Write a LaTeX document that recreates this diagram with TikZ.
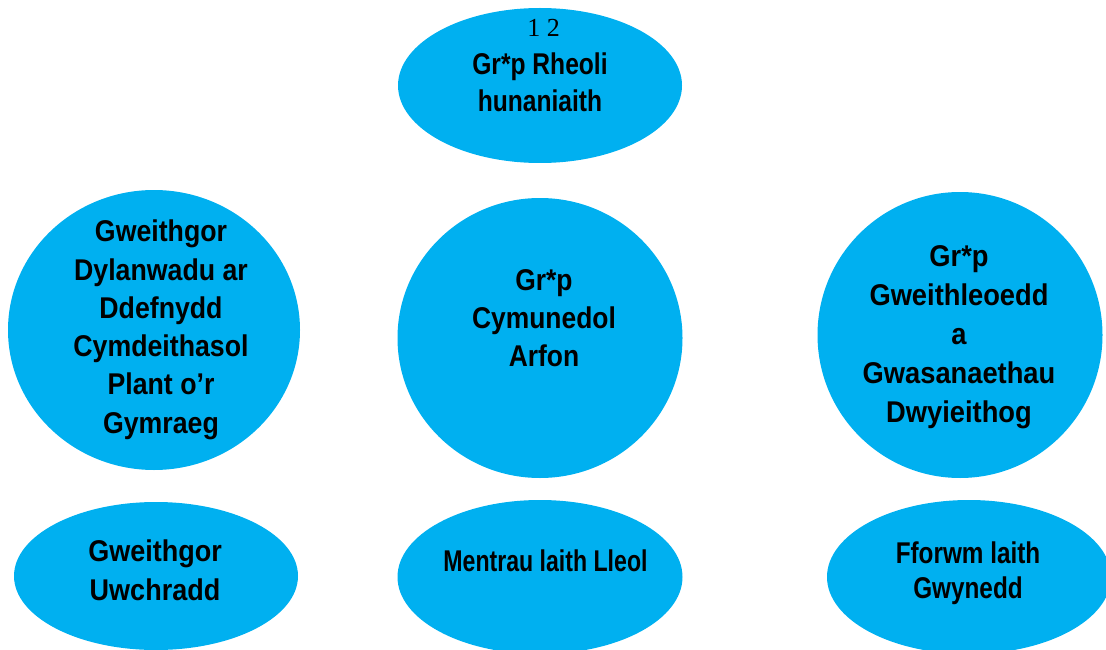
\documentclass[tikz,border=0pt]{standalone}
\usepackage{fontspec}
\usetikzlibrary{shapes.geometric}
\newfontfamily\fsTop[FakeStretch=0.82]{Liberation Sans}
\newfontfamily\fsMid[FakeStretch=0.88]{Liberation Sans}
\newfontfamily\fsLeft[FakeStretch=0.89]{Liberation Sans}
\newfontfamily\fsRight[FakeStretch=0.91]{Liberation Sans}
\newfontfamily\fsBL[FakeStretch=0.90]{Liberation Sans}
\newfontfamily\fsBC[FakeStretch=0.77]{Liberation Sans}
\newfontfamily\fsBR[FakeStretch=0.81]{Liberation Sans}
\newfontfamily\numfont{Liberation Serif}
\definecolor{blob}{HTML}{00B0F0}
\newcommand{\lines}[3]{{#1\bfseries\fontsize{30}{#2}\selectfont\setlength{\tabcolsep}{0pt}\begin{tabular}[t]{c}#3\end{tabular}}}
\begin{document}
\begin{tikzpicture}[x=1pt,y=-1pt,
  blobshape/.style={ellipse,fill=blob,draw=none,inner sep=0pt},
  label text/.style={anchor=base,inner sep=0pt,text=black}]
\useasboundingbox (0,0) rectangle (1106,650);
\clip (0,0) rectangle (1106,650);
% shapes
\node[blobshape,minimum width=284pt,minimum height=155pt] (top) at (540,85.5) {};
\node[blobshape,minimum width=292pt,minimum height=280pt] (left) at (154,330) {};
\node[blobshape,minimum width=285pt,minimum height=280pt] (mid) at (540,338) {};
\node[blobshape,minimum width=285pt,minimum height=286pt] (right) at (960,335) {};
\node[blobshape,minimum width=284pt,minimum height=148pt] (bl) at (156,576) {};
\node[blobshape,minimum width=285pt,minimum height=154pt] (bc) at (540,577) {};
\node[blobshape,minimum width=284pt,minimum height=154pt] (br) at (969,577) {};
% texts
\node[label text] (num) at (543.5,37) {\numfont\fontsize{26}{30}\selectfont 1 2};
\node[label text] (ttop) at (540,75) {\lines{\fsTop}{36.7}{Gr*p Rheoli\\hunaniaith}};
\node[label text] (tmid) at (544,290) {\lines{\fsMid}{38.3}{Gr*p\\Cymunedol\\Arfon}};
\node[label text] (tleft) at (161,241.7) {\lines{\fsLeft}{38.3}{Gweithgor\\Dylanwadu ar\\Ddefnydd\\Cymdeithasol\\Plant o’r\\Gymraeg}};
\node[label text] (tright) at (959,266.7) {\lines{\fsRight}{39}{Gr*p\\Gweithleoedd\\a\\Gwasanaethau\\Dwyieithog}};
\node[label text] (tbl) at (155,561.7) {\lines{\fsBL}{38.3}{Gweithgor\\Uwchradd}};
\node[label text] (tbc) at (545.5,571.7) {\lines{\fsBC}{38.3}{Mentrau laith Lleol}};
\node[label text] (tbr) at (968,563.3) {\lines{\fsBR}{35}{Fforwm laith\\Gwynedd}};
\end{tikzpicture}
\end{document}
